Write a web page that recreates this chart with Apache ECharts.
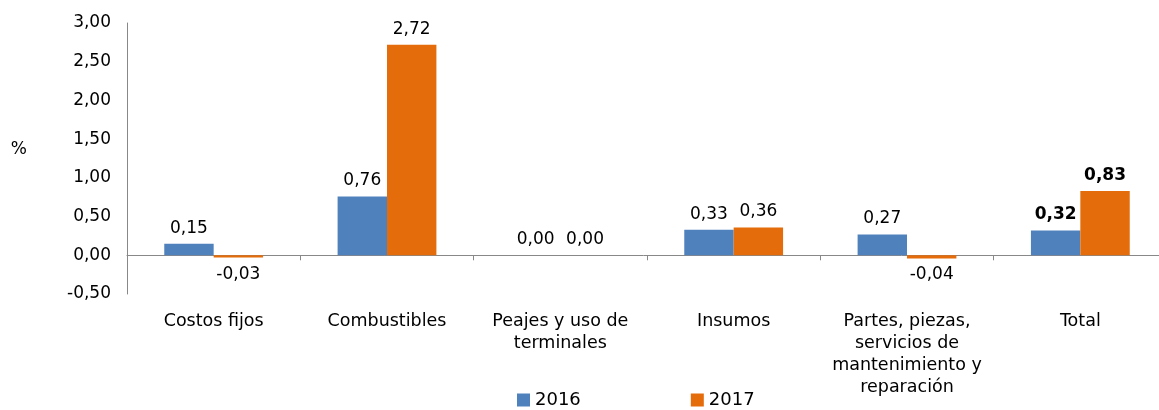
<!DOCTYPE html>
<html>
<head>
<meta charset="utf-8">
<script src="https://cdn.jsdelivr.net/npm/echarts@6/dist/echarts.min.js"></script>
<style>
    html, body { margin: 0; padding: 0; background: #fff; }
    #chart { width: 1159px; height: 410px; }
</style>
</head>
<body>
<div id="chart"></div>
<script>
// 分类
var categories = ["Costos fijos", "Combustibles", "Peajes y uso de\nterminales", "Insumos",
    "Partes, piezas,\nservicios de\nmantenimiento y\nreparación", "Total"];
// 两年的数据
var data2016 = [0.15, 0.76, 0.00, 0.33, 0.27, 0.32];
var data2017 = [-0.03, 2.72, 0.00, 0.36, -0.04, 0.83];
var yTicks = [-0.5, 0, 0.5, 1, 1.5, 2, 2.5, 3];

(function () {
    var myChart = echarts.init(document.getElementById("chart"));
    var font = "DejaVu Sans";
    var last = categories.length - 1;
    function fmt(v) {
        return v.toFixed(2).replace(".", ",");
    }
    // 数据标签，负数放在下方，Total 加粗
    function makeData(arr) {
        return arr.map(function (v, i) {
            return {
                value: v,
                label: {
                    position: v < 0 ? "bottom" : "top",
                    distance: v < 0 ? 8 : 7,
                    fontWeight: i === last ? "bold" : "normal"
                }
            };
        });
    }
    var option = {
        textStyle: { fontFamily: font },
        grid: {
            left: 127,
            right: -8,
            top: 23,
            bottom: 116,
            outerBoundsMode: "none",
            containLabel: false
        },
        legend: {
            top: 386,
            left: 512,
            itemWidth: 13,
            itemHeight: 13,
            itemGap: 110,
            icon: "rect",
            textStyle: { fontSize: 18, color: "#000", fontFamily: font }
        },
        xAxis: {
            type: "category",
            data: categories,
            axisLine: { onZero: true, lineStyle: { color: "#888", width: 1 } },
            axisTick: { show: true, length: 5, lineStyle: { color: "#888" } },
            axisLabel: {
                interval: 0,
                margin: 16,
                color: "#000",
                fontSize: 17.5,
                lineHeight: 22,
                verticalAlign: "top"
            }
        },
        yAxis: {
            type: "value",
            name: "%",
            nameLocation: "middle",
            nameRotate: 0,
            nameGap: 100,
            nameTextStyle: { fontSize: 17, color: "#000", verticalAlign: "bottom" },
            min: yTicks[0],
            max: yTicks[yTicks.length - 1],
            interval: 0.5,
            axisLine: { show: true, lineStyle: { color: "#888" } },
            axisTick: { show: false },
            splitLine: { show: false },
            axisLabel: {
                color: "#000",
                fontSize: 17,
                margin: 16,
                formatter: fmt
            }
        },
        series: [
            {
                name: "2016",
                type: "bar",
                data: makeData(data2016),
                barGap: "0%",
                barCategoryGap: "43%",
                itemStyle: { color: "#4F81BD" },
                label: {
                    show: true,
                    color: "#000",
                    fontSize: 17,
                    formatter: function (p) { return fmt(p.value); }
                }
            },
            {
                name: "2017",
                type: "bar",
                data: makeData(data2017),
                barGap: "0%",
                barCategoryGap: "43%",
                itemStyle: { color: "#E46C0A" },
                label: {
                    show: true,
                    color: "#000",
                    fontSize: 17,
                    formatter: function (p) { return fmt(p.value); }
                }
            }
        ]
    };
    myChart.setOption(option);
    window.addEventListener("resize", function () {
        myChart.resize();
    });
})();
</script>
</body>
</html>
